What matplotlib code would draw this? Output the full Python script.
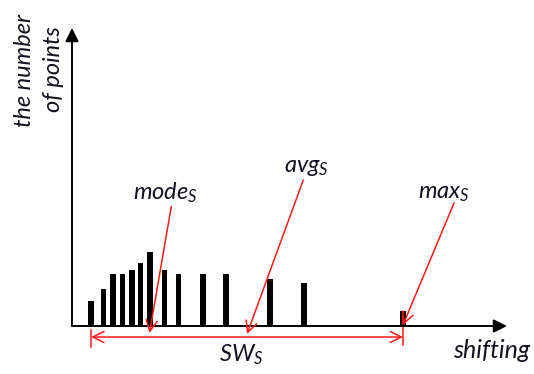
import matplotlib
matplotlib.use("Agg")
import matplotlib.pyplot as plt
import numpy as np

plt.rcParams['font.family'] = ['Lato', 'DejaVu Sans']
plt.rcParams['mathtext.fontset'] = 'custom'
plt.rcParams['mathtext.it'] = 'Lato:italic'
plt.rcParams['mathtext.rm'] = 'Lato'

# shift values and the number of points at each shift
shifts = [1.92, 3.13, 4.12, 5.07, 6.02, 6.85, 7.8, 9.27, 10.63, 13.1, 15.4, 19.78, 23.2, 33.1]
counts = [5.0, 7.4, 10.4, 10.4, 11.2, 12.6, 14.8, 11.2, 10.4, 10.4, 10.4, 9.4, 8.6, 3.0]

# statistics that are marked
mode_s = shifts[int(np.argmax(counts))]
avg_s = 17.5
max_s = max(shifts)
min_s = min(shifts)

fig = plt.figure(figsize=(5.34, 3.74), dpi=100)
ax = fig.add_axes([0, 0, 1, 1])
ax.set_xlim(-7.2, 46.2)
ax.set_ylim(-9.6, 65.2)
ax.axis('off')

txt = '#111122'
red = '#ff1a1a'

ax.bar(shifts, counts, width=0.55, color='black', zorder=2)

# axes with arrows
ax.annotate('', xy=(43.5, 0), xytext=(0, 0),
            arrowprops=dict(arrowstyle='-|>', color='black', lw=1.4,
                            mutation_scale=20, shrinkA=0, shrinkB=0))
ax.annotate('', xy=(0, 59.6), xytext=(0, 0),
            arrowprops=dict(arrowstyle='-|>', color='black', lw=1.4,
                            mutation_scale=20, shrinkA=0, shrinkB=0))

ax.text(-4.8, 51.2, 'the number', rotation=90, ha='center', va='center',
        fontsize=17, style='italic', color=txt)
ax.text(-1.9, 51.4, 'of points', rotation=90, ha='center', va='center',
        fontsize=17, style='italic', color=txt)
ax.text(38.1, -2.5, 'shifting', ha='left', va='top', fontsize=18,
        style='italic', color=txt)

arrow = dict(arrowstyle='->', color=red, lw=1.1, mutation_scale=20,
             shrinkA=0, shrinkB=0)

# mode
ax.annotate('', xy=(mode_s - 0.05, -1.4), xytext=(9.93, 23.9), arrowprops=arrow)
ax.text(9.3, 26.6, '$mode_S$', ha='center', va='center', fontsize=17, color=txt)
# avg
ax.annotate('', xy=(avg_s, -1.6), xytext=(23.13, 29.2), arrowprops=arrow)
ax.text(23.4, 31.6, '$avg_S$', ha='center', va='center', fontsize=17, color=txt)
# max
ax.annotate('', xy=(max_s, 0.2), xytext=(38.2, 24.6), arrowprops=arrow)
ax.text(37.2, 26.6, '$max_S$', ha='center', va='center', fontsize=17, color=txt)

# span SW
ax.annotate('', xy=(min_s, -2.2), xytext=(max_s, -2.2),
            arrowprops=dict(arrowstyle='<->', color=red, lw=1.1,
                            mutation_scale=20, shrinkA=0, shrinkB=0))
ax.plot([min_s, min_s], [-0.8, -4.2], color=red, lw=1.1)
ax.plot([max_s, max_s], [2.0, -3.8], color=red, lw=1.1)
ax.text(16.9, -5.8, '$SW_S$', ha='center', va='center', fontsize=17, color=txt)

fig.savefig('out.png', dpi=100)
